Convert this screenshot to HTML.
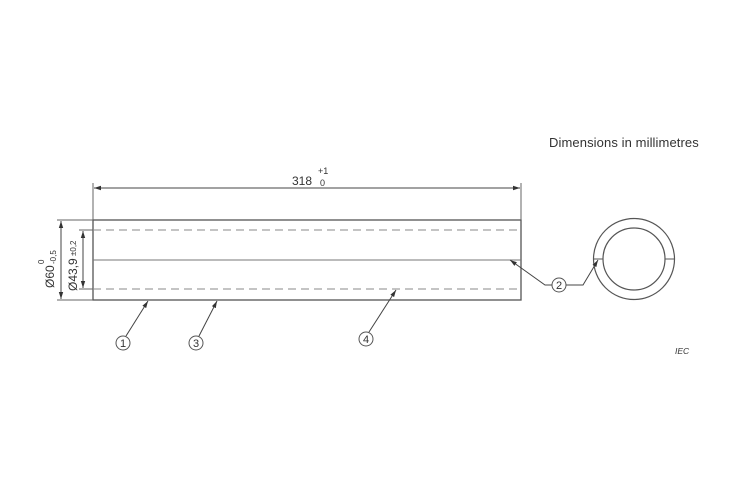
<!DOCTYPE html>
<html><head><meta charset="utf-8"><style>
html,body{margin:0;padding:0;background:#fff;}
svg{display:block;font-family:"Liberation Sans",Arial,sans-serif;}
</style></head><body>
<svg width="730" height="480" viewBox="0 0 730 480" xmlns="http://www.w3.org/2000/svg">
<defs>
<marker id="a" markerWidth="8" markerHeight="6" refX="7" refY="3" orient="auto-start-reverse" markerUnits="userSpaceOnUse"><path d="M0,0.8 L7,3 L0,5.2z" fill="#333"/></marker>
</defs>
<text x="549" y="147" font-size="13" letter-spacing="0.1" fill="#333">Dimensions in millimetres</text>
<g stroke="#555" stroke-width="1" fill="none">
<rect x="93" y="220" width="428" height="80" stroke-width="1.3"/>
<line x1="93" y1="260" x2="521" y2="260" stroke="#777"/>
<line x1="93" y1="230" x2="521" y2="230" stroke="#888" stroke-dasharray="8,5"/>
<line x1="93" y1="289" x2="521" y2="289" stroke="#888" stroke-dasharray="8,5"/>
<line x1="93" y1="183" x2="93" y2="220" stroke="#666"/>
<line x1="521" y1="183" x2="521" y2="220" stroke="#666"/>
<line x1="94" y1="188" x2="520" y2="188" marker-start="url(#a)" marker-end="url(#a)" stroke="#444"/>
<line x1="57" y1="220" x2="93" y2="220" stroke="#666"/>
<line x1="57" y1="300" x2="93" y2="300" stroke="#666"/>
<line x1="61" y1="221" x2="61" y2="299" marker-start="url(#a)" marker-end="url(#a)" stroke="#444"/>
<line x1="79" y1="230" x2="93" y2="230" stroke="#666"/>
<line x1="79" y1="289" x2="93" y2="289" stroke="#666"/>
<line x1="83" y1="231" x2="83" y2="288" marker-start="url(#a)" marker-end="url(#a)" stroke="#444"/>
<circle cx="634" cy="259" r="40.5" stroke-width="1.2"/>
<circle cx="634" cy="259" r="31" stroke-width="1.2"/>
<line x1="593" y1="259" x2="603" y2="259"/>
<line x1="665" y1="259" x2="675" y2="259"/>
<circle cx="123" cy="343" r="7"/>
<circle cx="196" cy="343" r="7"/>
<circle cx="366" cy="339" r="7"/>
<circle cx="559" cy="285" r="7"/>
<line x1="126" y1="336" x2="148" y2="301" marker-end="url(#a)" stroke="#444"/>
<line x1="199" y1="336" x2="217" y2="301" marker-end="url(#a)" stroke="#444"/>
<line x1="369" y1="332" x2="396" y2="290" marker-end="url(#a)" stroke="#444"/>
<polyline points="552,285 545,285 510,260" marker-end="url(#a)" stroke="#444"/>
<polyline points="566,285 583,285 598,260" marker-end="url(#a)" stroke="#444"/>
</g>
<g fill="#333" font-size="11" text-anchor="middle">
<text x="123" y="347">1</text>
<text x="196" y="347">3</text>
<text x="366" y="343">4</text>
<text x="559" y="289">2</text>
</g>
<text x="292" y="185" font-size="12" fill="#333">318</text>
<text x="318" y="174" font-size="9" fill="#333">+1</text>
<text x="320" y="186" font-size="9" fill="#333">0</text>
<g transform="translate(54,260) rotate(-90)" fill="#333">
<text x="-28" y="0" font-size="12">Ø60</text>
<text x="-4" y="-10" font-size="8">0</text>
<text x="-4" y="2" font-size="8">-0,5</text>
</g>
<g transform="translate(77,260) rotate(-90)" fill="#333">
<text x="-31" y="0" font-size="12">Ø43,9</text>
<text x="4" y="-1" font-size="8">±0,2</text>
</g>
<text x="675" y="354" font-size="8.5" font-style="italic" fill="#333">IEC</text>
</svg>
</body></html>
